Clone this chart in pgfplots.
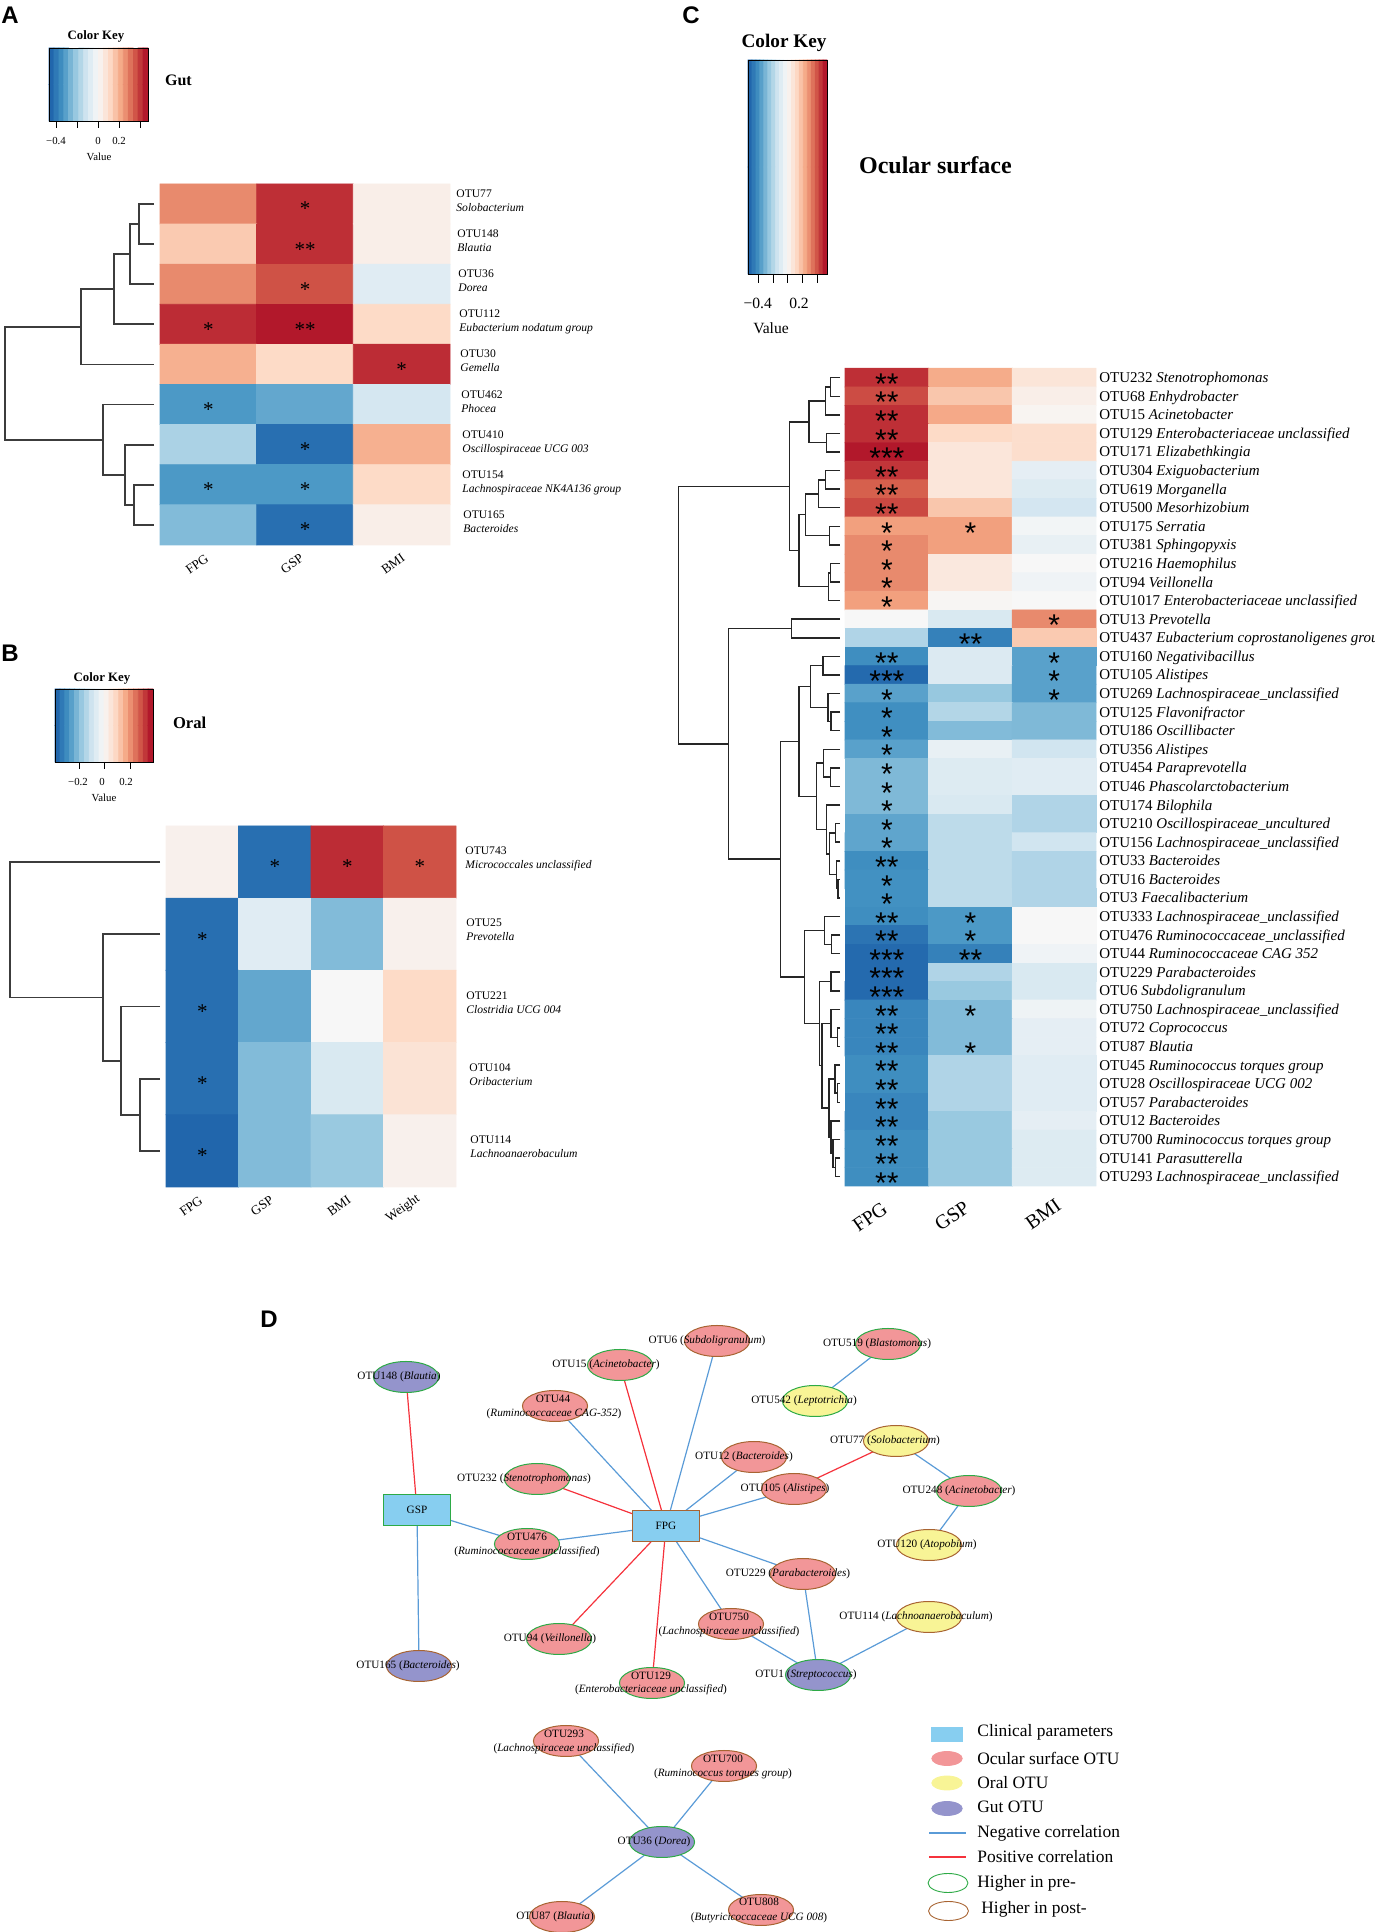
\documentclass[border=0pt]{standalone}
\usepackage{pgfplots}
\pgfplotsset{compat=1.18}
\usepackage{pgfplotstable}
\usepackage{fontspec}
\setmainfont{Liberation Serif}
\setsansfont{Liberation Sans}

\definecolor{nred}{RGB}{242,150,152}
\definecolor{nyel}{RGB}{248,244,150}
\definecolor{npur}{RGB}{148,148,204}
\definecolor{nbox}{RGB}{135,206,240}
\definecolor{bpre}{RGB}{45,170,70}
\definecolor{bpost}{RGB}{168,100,50}
\definecolor{eneg}{RGB}{90,155,215}
\definecolor{epos}{RGB}{245,50,60}
\definecolor{dgray}{RGB}{60,60,60}

\pgfplotsset{colormap={RdBu}{rgb255=(33,102,172) rgb255=(67,147,195) rgb255=(146,197,222) rgb255=(209,229,240) rgb255=(247,247,247) rgb255=(253,219,199) rgb255=(244,165,130) rgb255=(214,96,77) rgb255=(178,24,43)}}

\newcommand{\fLet}{\sffamily\bfseries\fontsize{12}{13}\selectfont}
\newcommand{\fRow}{\fontsize{5.8}{6.5}\selectfont}
\newcommand{\fCrow}{\fontsize{7.5}{9}\selectfont}
\newcommand{\fD}{\fontsize{5.6}{6.5}\selectfont}
\newcommand{\fLeg}{\fontsize{8.7}{10}\selectfont}
\newcommand{\fSmall}{\fontsize{5.4}{6}\selectfont}
\newcommand{\fCsmall}{\fontsize{7.8}{9}\selectfont}

% colour key bands
\pgfplotstableread[row sep=\\]{
k r v\\
0 0 -1\\ 1 0 -0.895\\ 2 0 -0.789\\ 3 0 -0.684\\ 4 0 -0.579\\ 5 0 -0.474\\ 6 0 -0.368\\ 7 0 -0.263\\ 8 0 -0.158\\ 9 0 -0.053\\
10 0 0.053\\ 11 0 0.158\\ 12 0 0.263\\ 13 0 0.368\\ 14 0 0.474\\ 15 0 0.579\\ 16 0 0.684\\ 17 0 0.789\\ 18 0 0.895\\ 19 0 1\\
0 1 -1\\ 1 1 -0.895\\ 2 1 -0.789\\ 3 1 -0.684\\ 4 1 -0.579\\ 5 1 -0.474\\ 6 1 -0.368\\ 7 1 -0.263\\ 8 1 -0.158\\ 9 1 -0.053\\
10 1 0.053\\ 11 1 0.158\\ 12 1 0.263\\ 13 1 0.368\\ 14 1 0.474\\ 15 1 0.579\\ 16 1 0.684\\ 17 1 0.789\\ 18 1 0.895\\ 19 1 1\\
}\keytab

% Panel A (gut): rows 1..9, cols FPG GSP BMI
\pgfplotstableread[row sep=\\]{
r c v\\
1 0 0.6\\ 1 1 0.92\\ 1 2 0.08\\
2 0 0.33\\ 2 1 0.92\\ 2 2 0.08\\
3 0 0.6\\ 3 1 0.8\\ 3 2 -0.15\\
4 0 0.93\\ 4 1 1.0\\ 4 2 0.25\\
5 0 0.45\\ 5 1 0.25\\ 5 2 0.93\\
6 0 -0.72\\ 6 1 -0.65\\ 6 2 -0.22\\
7 0 -0.4\\ 7 1 -0.95\\ 7 2 0.45\\
8 0 -0.72\\ 8 1 -0.72\\ 8 2 0.25\\
9 0 -0.55\\ 9 1 -0.95\\ 9 2 0.08\\
}\Ahm
\pgfplotstableread[row sep=\\]{
r c s\\
1 1 *\\ 2 1 **\\ 3 1 *\\ 4 0 *\\ 4 1 **\\ 5 2 *\\ 6 0 *\\ 7 1 *\\ 8 0 *\\ 8 1 *\\ 9 1 *\\
}\Ast

% Panel B (oral): rows 1..5, cols FPG GSP BMI Weight
\pgfplotstableread[row sep=\\]{
r c v\\
1 0 0.06\\ 1 1 -0.95\\ 1 2 0.93\\ 1 3 0.8\\
2 0 -0.95\\ 2 1 -0.15\\ 2 2 -0.55\\ 2 3 0.06\\
3 0 -0.95\\ 3 1 -0.65\\ 3 2 0.0\\ 3 3 0.25\\
4 0 -0.95\\ 4 1 -0.55\\ 4 2 -0.2\\ 4 3 0.18\\
5 0 -1.0\\ 5 1 -0.55\\ 5 2 -0.47\\ 5 3 0.06\\
}\Bhm
\pgfplotstableread[row sep=\\]{
r c s\\
1 1 *\\ 1 2 *\\ 1 3 *\\ 2 0 *\\ 3 0 *\\ 4 0 *\\ 5 0 *\\
}\Bst

% Panel C (ocular surface): rows 1..44, cols FPG GSP BMI
\pgfplotstableread[row sep=\\]{
r c v\\
1 0 0.92\\ 1 1 0.47\\ 1 2 0.16\\
2 0 0.82\\ 2 1 0.35\\ 2 2 0.08\\
3 0 0.92\\ 3 1 0.48\\ 3 2 0.03\\
4 0 0.92\\ 4 1 0.25\\ 4 2 0.22\\
5 0 1.0\\ 5 1 0.15\\ 5 2 0.22\\
6 0 0.9\\ 6 1 0.15\\ 6 2 -0.12\\
7 0 0.75\\ 7 1 0.15\\ 7 2 -0.17\\
8 0 0.83\\ 8 1 0.35\\ 8 2 -0.23\\
9 0 0.52\\ 9 1 0.52\\ 9 2 -0.03\\
10 0 0.6\\ 10 1 0.52\\ 10 2 -0.1\\
11 0 0.6\\ 11 1 0.13\\ 11 2 0.0\\
12 0 0.6\\ 12 1 0.13\\ 12 2 -0.05\\
13 0 0.52\\ 13 1 0.02\\ 13 2 0.0\\
14 0 0.0\\ 14 1 -0.2\\ 14 2 0.6\\
15 0 -0.38\\ 15 1 -0.85\\ 15 2 0.33\\
16 0 -0.78\\ 16 1 -0.18\\ 16 2 -0.68\\
17 0 -0.98\\ 17 1 -0.18\\ 17 2 -0.68\\
18 0 -0.68\\ 18 1 -0.48\\ 18 2 -0.68\\
19 0 -0.77\\ 19 1 -0.37\\ 19 2 -0.56\\
20 0 -0.77\\ 20 1 -0.55\\ 20 2 -0.56\\
21 0 -0.68\\ 21 1 -0.1\\ 21 2 -0.25\\
22 0 -0.56\\ 22 1 -0.17\\ 22 2 -0.15\\
23 0 -0.56\\ 23 1 -0.17\\ 23 2 -0.15\\
24 0 -0.56\\ 24 1 -0.2\\ 24 2 -0.38\\
25 0 -0.66\\ 25 1 -0.33\\ 25 2 -0.38\\
26 0 -0.66\\ 26 1 -0.33\\ 26 2 -0.25\\
27 0 -0.78\\ 27 1 -0.33\\ 27 2 -0.38\\
28 0 -0.76\\ 28 1 -0.33\\ 28 2 -0.38\\
29 0 -0.76\\ 29 1 -0.33\\ 29 2 -0.38\\
30 0 -0.78\\ 30 1 -0.72\\ 30 2 0.0\\
31 0 -0.92\\ 31 1 -0.72\\ 31 2 0.0\\
32 0 -0.98\\ 32 1 -0.85\\ 32 2 -0.05\\
33 0 -0.98\\ 33 1 -0.38\\ 33 2 -0.2\\
34 0 -0.98\\ 34 1 -0.47\\ 34 2 -0.2\\
35 0 -0.82\\ 35 1 -0.55\\ 35 2 -0.06\\
36 0 -0.82\\ 36 1 -0.55\\ 36 2 -0.12\\
37 0 -0.82\\ 37 1 -0.55\\ 37 2 -0.12\\
38 0 -0.78\\ 38 1 -0.38\\ 38 2 -0.15\\
39 0 -0.78\\ 39 1 -0.38\\ 39 2 -0.15\\
40 0 -0.82\\ 40 1 -0.38\\ 40 2 -0.15\\
41 0 -0.82\\ 41 1 -0.47\\ 41 2 -0.12\\
42 0 -0.78\\ 42 1 -0.47\\ 42 2 -0.17\\
43 0 -0.78\\ 43 1 -0.47\\ 43 2 -0.17\\
44 0 -0.78\\ 44 1 -0.47\\ 44 2 -0.17\\
}\Chm
\pgfplotstableread[row sep=\\]{
r c s\\
1 0 **\\ 2 0 **\\ 3 0 **\\ 4 0 **\\ 5 0 ***\\ 6 0 **\\ 7 0 **\\ 8 0 **\\ 9 0 *\\ 10 0 *\\
11 0 *\\ 12 0 *\\ 13 0 *\\ 16 0 **\\ 17 0 ***\\ 18 0 *\\ 19 0 *\\ 20 0 *\\ 21 0 *\\ 22 0 *\\
23 0 *\\ 24 0 *\\ 25 0 *\\ 26 0 *\\ 27 0 **\\ 28 0 *\\ 29 0 *\\ 30 0 **\\ 31 0 **\\ 32 0 ***\\
33 0 ***\\ 34 0 ***\\ 35 0 **\\ 36 0 **\\ 37 0 **\\ 38 0 **\\ 39 0 **\\ 40 0 **\\ 41 0 **\\ 42 0 **\\
43 0 **\\ 44 0 **\\
9 1 *\\ 15 1 **\\ 30 1 *\\ 31 1 *\\ 32 1 **\\ 35 1 *\\ 37 1 *\\
14 2 *\\ 16 2 *\\ 17 2 *\\ 18 2 *\\
}\Cst

\begin{document}
\begin{tikzpicture}[
  rl/.style={anchor=west, inner sep=0pt, text height=0.7em, text depth=0.2em},
  nl/.style={font=\fD, inner sep=0pt},
]
\begin{axis}[
  width=687.5pt, height=966pt, scale only axis,
  xmin=0, xmax=1375, ymin=0, ymax=1932, y dir=reverse,
  hide axis, clip=false, enlargelimits=false,
  colormap name=RdBu, point meta min=-1, point meta max=1,
  unbounded coords=jump, set layers=standard,
]

%================ PANEL A =================
\node[font=\fLet] at (axis cs:10,15) {A};
\node[font=\bfseries\fontsize{6.4}{7}\selectfont] at (axis cs:96,36) {Color Key};
\addplot[matrix plot*, mesh/cols=20, point meta=explicit] table[x expr={49+4.95*(\thisrow{k}+0.5)}, y expr={48+36.5*(\thisrow{r}+0.5)}, meta=v] {\keytab};
\addplot[black, line width=0.4pt] coordinates {(49,48)(148,48)(148,121)(49,121)(49,48)};
\addplot[black, line width=0.5pt] coordinates {(56,121)(56,128) (nan,nan) (77,121)(77,128) (nan,nan) (98,121)(98,128) (nan,nan) (119,121)(119,128) (nan,nan) (140,121)(140,128)};
\node[font=\fSmall] at (axis cs:56,141) {−0.4};
\node[font=\fSmall] at (axis cs:98,141) {0};
\node[font=\fSmall] at (axis cs:119,141) {0.2};
\node[font=\fSmall] at (axis cs:99,157) {Value};
\node[anchor=west, font=\bfseries\fontsize{8}{9}\selectfont] at (axis cs:158,80) {Gut};

\addplot[matrix plot*, mesh/cols=3, point meta=explicit] table[x expr={160+96.67*(\thisrow{c}+0.5)}, y expr={184+40.1*(\thisrow{r}-0.5)}, meta=v] {\Ahm};
\addplot[draw=none, mark=none, nodes near coords, point meta=explicit symbolic, nodes near coords align={center},
  every node near coord/.append style={font=\fontsize{10.5}{12}\selectfont, anchor=center, yshift=-2.5pt, inner sep=0pt}]
  table[x expr={160+96.67*(\thisrow{c}+0.5)}, y expr={184+40.1*(\thisrow{r}-0.5)}, meta=s] {\Ast};

\addplot[dgray, line width=0.9pt] coordinates {
(154,204.05)(139,204.05)(139,244.15)(154,244.15) (nan,nan)
(139,224.1)(130,224.1)(130,284.25)(154,284.25) (nan,nan)
(130,254.18)(114,254.18)(114,324.35)(154,324.35) (nan,nan)
(114,289.26)(81,289.26)(81,364.45)(154,364.45) (nan,nan)
(154,484.75)(134,484.75)(134,524.85)(154,524.85) (nan,nan)
(154,444.65)(125,444.65)(125,504.8)(134,504.8) (nan,nan)
(154,404.55)(103,404.55)(103,474.73)(125,474.73) (nan,nan)
(81,326.86)(5,326.86)(5,439.64)(103,439.64)
};

\node[rl, font=\fRow] at (axis cs:456,193) {OTU77};
\node[rl, font=\fRow] at (axis cs:456,207) {\textit{Solobacterium}};
\node[rl, font=\fRow] at (axis cs:457,233) {OTU148};
\node[rl, font=\fRow] at (axis cs:457,247) {\textit{Blautia}};
\node[rl, font=\fRow] at (axis cs:458,273) {OTU36};
\node[rl, font=\fRow] at (axis cs:458,287) {\textit{Dorea}};
\node[rl, font=\fRow] at (axis cs:459,313) {OTU112};
\node[rl, font=\fRow] at (axis cs:459,327) {\textit{Eubacterium nodatum group}};
\node[rl, font=\fRow] at (axis cs:460,353) {OTU30};
\node[rl, font=\fRow] at (axis cs:460,367) {\textit{Gemella}};
\node[rl, font=\fRow] at (axis cs:461,394) {OTU462};
\node[rl, font=\fRow] at (axis cs:461,408) {\textit{Phocea}};
\node[rl, font=\fRow] at (axis cs:462,434) {OTU410};
\node[rl, font=\fRow] at (axis cs:462,448) {\textit{Oscillospiraceae UCG 003}};
\node[rl, font=\fRow] at (axis cs:462,474) {OTU154};
\node[rl, font=\fRow] at (axis cs:462,488) {\textit{Lachnospiraceae NK4A136 group}};
\node[rl, font=\fRow] at (axis cs:463,514) {OTU165};
\node[rl, font=\fRow] at (axis cs:463,528) {\textit{Bacteroides}};

\node[rotate=35, font=\fontsize{6.6}{7}\selectfont] at (axis cs:197,564) {FPG};
\node[rotate=35, font=\fontsize{6.6}{7}\selectfont] at (axis cs:292,564) {GSP};
\node[rotate=35, font=\fontsize{6.6}{7}\selectfont] at (axis cs:393,564) {BMI};

%================ PANEL B =================
\node[font=\fLet] at (axis cs:10,653) {B};
\node[font=\bfseries\fontsize{6.4}{7}\selectfont] at (axis cs:102,678) {Color Key};
\addplot[matrix plot*, mesh/cols=20, point meta=explicit] table[x expr={55+4.9*(\thisrow{k}+0.5)}, y expr={689+36.5*(\thisrow{r}+0.5)}, meta=v] {\keytab};
\addplot[black, line width=0.4pt] coordinates {(55,689)(153,689)(153,762)(55,762)(55,689)};
\addplot[black, line width=0.5pt] coordinates {(79,762)(79,769) (nan,nan) (104,762)(104,769) (nan,nan) (130,762)(130,769)};
\node[font=\fSmall] at (axis cs:78,782) {−0.2};
\node[font=\fSmall] at (axis cs:102,782) {0};
\node[font=\fSmall] at (axis cs:126,782) {0.2};
\node[font=\fSmall] at (axis cs:104,798) {Value};
\node[anchor=west, font=\bfseries\fontsize{8.3}{9}\selectfont] at (axis cs:166,723) {Oral};

\addplot[matrix plot*, mesh/cols=4, point meta=explicit] table[x expr={166+72.5*(\thisrow{c}+0.5)}, y expr={826+72.2*(\thisrow{r}-0.5)}, meta=v] {\Bhm};
\addplot[draw=none, mark=none, nodes near coords, point meta=explicit symbolic, nodes near coords align={center},
  every node near coord/.append style={font=\fontsize{10.5}{12}\selectfont, anchor=center, yshift=-2.5pt, inner sep=0pt}]
  table[x expr={166+72.5*(\thisrow{c}+0.5)}, y expr={826+72.2*(\thisrow{r}-0.5)}, meta=s] {\Bst};

\addplot[dgray, line width=0.9pt] coordinates {
(160,1078.7)(140,1078.7)(140,1150.9)(160,1150.9) (nan,nan)
(160,1006.5)(121,1006.5)(121,1114.8)(140,1114.8) (nan,nan)
(160,934.3)(103,934.3)(103,1060.65)(121,1060.65) (nan,nan)
(160,862.1)(10,862.1)(10,997.48)(103,997.48)
};

\node[rl, font=\fRow] at (axis cs:465,850) {OTU743};
\node[rl, font=\fRow] at (axis cs:465,864) {\textit{Micrococcales unclassified}};
\node[rl, font=\fRow] at (axis cs:466,922) {OTU25};
\node[rl, font=\fRow] at (axis cs:466,936) {\textit{Prevotella}};
\node[rl, font=\fRow] at (axis cs:466,995) {OTU221};
\node[rl, font=\fRow] at (axis cs:466,1009) {\textit{Clostridia UCG 004}};
\node[rl, font=\fRow] at (axis cs:469,1067) {OTU104};
\node[rl, font=\fRow] at (axis cs:469,1081) {\textit{Oribacterium}};
\node[rl, font=\fRow] at (axis cs:470,1139) {OTU114};
\node[rl, font=\fRow] at (axis cs:470,1153) {\textit{Lachnoanaerobaculum}};

\node[rotate=35, font=\fontsize{6.6}{7}\selectfont] at (axis cs:191,1206) {FPG};
\node[rotate=35, font=\fontsize{6.6}{7}\selectfont] at (axis cs:262,1206) {GSP};
\node[rotate=35, font=\fontsize{6.6}{7}\selectfont] at (axis cs:339,1206) {BMI};
\node[rotate=35, font=\fontsize{6.6}{7}\selectfont] at (axis cs:403,1209) {Weight};

%================ PANEL C =================
\node[font=\fLet] at (axis cs:691,15) {C};
\node[font=\bfseries\fontsize{9.6}{11}\selectfont] at (axis cs:784,43) {Color Key};
\addplot[matrix plot*, mesh/cols=20, point meta=explicit] table[x expr={748+3.95*(\thisrow{k}+0.5)}, y expr={60+107*(\thisrow{r}+0.5)}, meta=v] {\keytab};
\addplot[black, line width=0.4pt] coordinates {(748,60)(827,60)(827,274)(748,274)(748,60)};
\addplot[black, line width=0.5pt] coordinates {(758.6,274)(758.6,283) (nan,nan) (773.2,274)(773.2,283) (nan,nan) (787.9,274)(787.9,283) (nan,nan) (802.5,274)(802.5,283) (nan,nan) (817.1,274)(817.1,283)};
\node[font=\fCsmall] at (axis cs:757.7,303) {−0.4};
\node[font=\fCsmall] at (axis cs:799,303) {0.2};
\node[font=\fCsmall] at (axis cs:771,328) {Value};
\node[anchor=west, font=\bfseries\fontsize{12}{13}\selectfont] at (axis cs:852,165) {Ocular surface};

\addplot[matrix plot*, mesh/cols=3, point meta=explicit] table[x expr={845+83.67*(\thisrow{c}+0.5)}, y expr={368.4+18.58*(\thisrow{r}-0.5)}, meta=v] {\Chm};
\addplot[draw=none, mark=none, nodes near coords, point meta=explicit symbolic, nodes near coords align={center},
  every node near coord/.append style={font=\sffamily\fontsize{15}{16}\selectfont, anchor=center, yshift=-3.2pt, inner sep=0pt}]
  table[x expr={845+83.67*(\thisrow{c}+0.5)}, y expr={368.4+18.58*(\thisrow{r}-0.5)}, meta=s] {\Cst};

\addplot[black!85, line width=0.75pt] coordinates {
(840,377.69)(830.3,377.69)(830.3,396.27)(840,396.27) (nan,nan)
(830.3,386.98)(825.7,386.98)(825.7,414.85)(840,414.85) (nan,nan)
(840,433.43)(826.3,433.43)(826.3,452.01)(840,452.01) (nan,nan)
(825.7,400.92)(809,400.92)(809,442.72)(826.3,442.72) (nan,nan)
(840,470.59)(825.7,470.59)(825.7,489.17)(840,489.17) (nan,nan)
(825.7,479.88)(818.7,479.88)(818.7,507.75)(840,507.75) (nan,nan)
(840,526.33)(829.7,526.33)(829.7,544.91)(840,544.91) (nan,nan)
(818.7,493.82)(805.3,493.82)(805.3,535.62)(829.7,535.62) (nan,nan)
(840,563.49)(830.7,563.49)(830.7,582.07)(840,582.07) (nan,nan)
(830.7,572.78)(828.7,572.78)(828.7,600.65)(840,600.65) (nan,nan)
(805.3,514.72)(799,514.72)(799,586.72)(828.7,586.72) (nan,nan)
(809,421.82)(789.7,421.82)(789.7,550.72)(799,550.72) (nan,nan)
(840,619.23)(791.3,619.23)(791.3,637.81)(840,637.81) (nan,nan)
(840,656.39)(823,656.39)(823,674.97)(840,674.97) (nan,nan)
(840,712.13)(831,712.13)(831,730.71)(840,730.71) (nan,nan)
(840,693.55)(828,693.55)(828,721.42)(831,721.42) (nan,nan)
(823,665.68)(810.7,665.68)(810.7,707.49)(828,707.49) (nan,nan)
(840,767.87)(830.7,767.87)(830.7,786.45)(840,786.45) (nan,nan)
(840,749.29)(823.3,749.29)(823.3,777.16)(830.7,777.16) (nan,nan)
(840,879.35)(838,879.35)(838,897.93)(840,897.93) (nan,nan)
(840,860.77)(836.3,860.77)(836.3,888.64)(838,888.64) (nan,nan)
(840,823.61)(835.3,823.61)(835.3,842.19)(840,842.19) (nan,nan)
(835.3,832.9)(829.3,832.9)(829.3,874.71)(836.3,874.71) (nan,nan)
(840,805.03)(826.3,805.03)(826.3,853.8)(829.3,853.8) (nan,nan)
(823.3,763.23)(816.7,763.23)(816.7,829.42)(826.3,829.42) (nan,nan)
(810.7,686.58)(799,686.58)(799,796.32)(816.7,796.32) (nan,nan)
(840,935.09)(831.7,935.09)(831.7,953.67)(840,953.67) (nan,nan)
(840,916.51)(824.3,916.51)(824.3,944.38)(831.7,944.38) (nan,nan)
(840,972.25)(831,972.25)(831,990.83)(840,990.83) (nan,nan)
(840,1027.99)(837.3,1027.99)(837.3,1046.57)(840,1046.57) (nan,nan)
(840,1009.41)(831,1009.41)(831,1037.28)(837.3,1037.28) (nan,nan)
(840,1083.73)(837.3,1083.73)(837.3,1102.31)(840,1102.31) (nan,nan)
(840,1065.15)(835,1065.15)(835,1093.02)(837.3,1093.02) (nan,nan)
(840,1158.05)(835.7,1158.05)(835.7,1176.63)(840,1176.63) (nan,nan)
(840,1139.47)(833,1139.47)(833,1167.34)(835.7,1167.34) (nan,nan)
(840,1120.89)(831,1120.89)(831,1153.4)(833,1153.4) (nan,nan)
(835,1079.09)(829,1079.09)(829,1137.15)(831,1137.15) (nan,nan)
(831,1023.35)(822,1023.35)(822,1108.12)(829,1108.12) (nan,nan)
(831,981.54)(819.3,981.54)(819.3,1065.73)(822,1065.73) (nan,nan)
(824.3,930.45)(804.7,930.45)(804.7,1023.64)(819.3,1023.64) (nan,nan)
(799,741.45)(780.7,741.45)(780.7,977.04)(804.7,977.04) (nan,nan)
(791.3,628.52)(728.3,628.52)(728.3,859.25)(780.7,859.25) (nan,nan)
(789.7,486.27)(678.7,486.27)(678.7,743.88)(728.3,743.88)
};

\node[rl, font=\fCrow] at (axis cs:1099,377.69) {OTU232 \textit{Stenotrophomonas}};
\node[rl, font=\fCrow] at (axis cs:1099,396.27) {OTU68 \textit{Enhydrobacter}};
\node[rl, font=\fCrow] at (axis cs:1099,414.85) {OTU15 \textit{Acinetobacter}};
\node[rl, font=\fCrow] at (axis cs:1099,433.43) {OTU129 \textit{Enterobacteriaceae unclassified}};
\node[rl, font=\fCrow] at (axis cs:1099,452.01) {OTU171 \textit{Elizabethkingia}};
\node[rl, font=\fCrow] at (axis cs:1099,470.59) {OTU304 \textit{Exiguobacterium}};
\node[rl, font=\fCrow] at (axis cs:1099,489.17) {OTU619 \textit{Morganella}};
\node[rl, font=\fCrow] at (axis cs:1099,507.75) {OTU500 \textit{Mesorhizobium}};
\node[rl, font=\fCrow] at (axis cs:1099,526.33) {OTU175 \textit{Serratia}};
\node[rl, font=\fCrow] at (axis cs:1099,544.91) {OTU381 \textit{Sphingopyxis}};
\node[rl, font=\fCrow] at (axis cs:1099,563.49) {OTU216 \textit{Haemophilus}};
\node[rl, font=\fCrow] at (axis cs:1099,582.07) {OTU94 \textit{Veillonella}};
\node[rl, font=\fCrow] at (axis cs:1099,600.65) {OTU1017 \textit{Enterobacteriaceae unclassified}};
\node[rl, font=\fCrow] at (axis cs:1099,619.23) {OTU13 \textit{Prevotella}};
\node[rl, font=\fCrow] at (axis cs:1099,637.81) {OTU437 \textit{Eubacterium coprostanoligenes group}};
\node[rl, font=\fCrow] at (axis cs:1099,656.39) {OTU160 \textit{Negativibacillus}};
\node[rl, font=\fCrow] at (axis cs:1099,674.97) {OTU105 \textit{Alistipes}};
\node[rl, font=\fCrow] at (axis cs:1099,693.55) {OTU269 \textit{Lachnospiraceae\_unclassified}};
\node[rl, font=\fCrow] at (axis cs:1099,712.13) {OTU125 \textit{Flavonifractor}};
\node[rl, font=\fCrow] at (axis cs:1099,730.71) {OTU186 \textit{Oscillibacter}};
\node[rl, font=\fCrow] at (axis cs:1099,749.29) {OTU356 \textit{Alistipes}};
\node[rl, font=\fCrow] at (axis cs:1099,767.87) {OTU454 \textit{Paraprevotella}};
\node[rl, font=\fCrow] at (axis cs:1099,786.45) {OTU46 \textit{Phascolarctobacterium}};
\node[rl, font=\fCrow] at (axis cs:1099,805.03) {OTU174 \textit{Bilophila}};
\node[rl, font=\fCrow] at (axis cs:1099,823.61) {OTU210 \textit{Oscillospiraceae\_uncultured}};
\node[rl, font=\fCrow] at (axis cs:1099,842.19) {OTU156 \textit{Lachnospiraceae\_unclassified}};
\node[rl, font=\fCrow] at (axis cs:1099,860.77) {OTU33 \textit{Bacteroides}};
\node[rl, font=\fCrow] at (axis cs:1099,879.35) {OTU16 \textit{Bacteroides}};
\node[rl, font=\fCrow] at (axis cs:1099,897.93) {OTU3 \textit{Faecalibacterium}};
\node[rl, font=\fCrow] at (axis cs:1099,916.51) {OTU333 \textit{Lachnospiraceae\_unclassified}};
\node[rl, font=\fCrow] at (axis cs:1099,935.09) {OTU476 \textit{Ruminococcaceae\_unclassified}};
\node[rl, font=\fCrow] at (axis cs:1099,953.67) {OTU44 \textit{Ruminococcaceae CAG 352}};
\node[rl, font=\fCrow] at (axis cs:1099,972.25) {OTU229 \textit{Parabacteroides}};
\node[rl, font=\fCrow] at (axis cs:1099,990.83) {OTU6 \textit{Subdoligranulum}};
\node[rl, font=\fCrow] at (axis cs:1099,1009.41) {OTU750 \textit{Lachnospiraceae\_unclassified}};
\node[rl, font=\fCrow] at (axis cs:1099,1027.99) {OTU72 \textit{Coprococcus}};
\node[rl, font=\fCrow] at (axis cs:1099,1046.57) {OTU87 \textit{Blautia}};
\node[rl, font=\fCrow] at (axis cs:1099,1065.15) {OTU45 \textit{Ruminococcus torques group}};
\node[rl, font=\fCrow] at (axis cs:1099,1083.73) {OTU28 \textit{Oscillospiraceae UCG 002}};
\node[rl, font=\fCrow] at (axis cs:1099,1102.31) {OTU57 \textit{Parabacteroides}};
\node[rl, font=\fCrow] at (axis cs:1099,1120.89) {OTU12 \textit{Bacteroides}};
\node[rl, font=\fCrow] at (axis cs:1099,1139.47) {OTU700 \textit{Ruminococcus torques group}};
\node[rl, font=\fCrow] at (axis cs:1099,1158.05) {OTU141 \textit{Parasutterella}};
\node[rl, font=\fCrow] at (axis cs:1099,1176.63) {OTU293 \textit{Lachnospiraceae\_unclassified}};

\node[rotate=35, font=\fontsize{10}{11}\selectfont] at (axis cs:870,1217) {FPG};
\node[rotate=35, font=\fontsize{10}{11}\selectfont] at (axis cs:952,1216) {GSP};
\node[rotate=35, font=\fontsize{10}{11}\selectfont] at (axis cs:1043,1214) {BMI};

%================ PANEL D =================
\node[font=\fLet] at (axis cs:269,1319) {D};

% edges
\addplot[eneg, line width=0.6pt] coordinates {
(417,1510)(419,1666) (nan,nan) (417,1510)(527,1544) (nan,nan) (527,1544)(666,1526) (nan,nan)
(555,1406)(666,1526) (nan,nan) (717,1341)(666,1526) (nan,nan) (754,1457)(666,1526) (nan,nan)
(794,1489)(666,1526) (nan,nan) (803,1574)(666,1526) (nan,nan) (731,1624)(666,1526) (nan,nan)
(803,1574)(818,1675) (nan,nan) (731,1624)(818,1675) (nan,nan) (929,1617)(818,1675) (nan,nan)
(896,1441)(969,1491) (nan,nan) (969,1491)(929,1545) (nan,nan) (888,1344)(815,1401) (nan,nan)
(566,1741)(662,1842) (nan,nan) (724,1766)(662,1842) (nan,nan) (562,1917)(662,1842) (nan,nan)
(761,1910)(662,1842)
};
\addplot[epos, line width=0.6pt] coordinates {
(406,1377)(417,1510) (nan,nan) (537,1479)(666,1526) (nan,nan) (620,1365)(666,1526) (nan,nan)
(652,1683)(666,1526) (nan,nan) (559,1639)(666,1526) (nan,nan) (794,1489)(896,1441)
};

% nodes
\addplot[only marks, mark=*, mark size=7.75pt, mark options={xscale=2.1, fill=nred, draw=bpre, line width=0.5pt}] coordinates {
(620,1365)(537,1479)(527,1544)(559,1639)(652,1683)(888,1344)(969,1491)};
\addplot[only marks, mark=*, mark size=7.75pt, mark options={xscale=2.1, fill=nred, draw=bpost, line width=0.5pt}] coordinates {
(717,1341)(555,1406)(754,1457)(794,1489)(803,1574)(731,1624)(566,1741)(724,1766)(562,1917)(761,1910)};
\addplot[only marks, mark=*, mark size=7.75pt, mark options={xscale=2.1, fill=nyel, draw=bpre, line width=0.5pt}] coordinates {(815,1401)};
\addplot[only marks, mark=*, mark size=7.75pt, mark options={xscale=2.1, fill=nyel, draw=bpost, line width=0.5pt}] coordinates {(896,1441)(929,1545)(929,1617)};
\addplot[only marks, mark=*, mark size=7.75pt, mark options={xscale=2.1, fill=npur, draw=bpre, line width=0.5pt}] coordinates {(406,1377)(818,1675)(662,1842)};
\addplot[only marks, mark=*, mark size=7.75pt, mark options={xscale=2.1, fill=npur, draw=bpost, line width=0.5pt}] coordinates {(419,1666)};
\addplot[only marks, mark=square*, mark size=7.75pt, mark options={xscale=2.16, fill=nbox, draw=bpre, line width=0.5pt}] coordinates {(417,1510)};
\addplot[only marks, mark=square*, mark size=7.75pt, mark options={xscale=2.16, fill=nbox, draw=bpost, line width=0.5pt}] coordinates {(666,1526)};

% node labels (above the node shapes)
\begin{pgfonlayer}{axis foreground}
\node[nl] at (axis cs:417,1510) {GSP};
\node[nl] at (axis cs:666,1526) {FPG};
\node[nl] at (axis cs:399,1377) {OTU148 (\textit{Blautia})};
\node[nl] at (axis cs:408,1666) {OTU165 (\textit{Bacteroides})};
\node[nl] at (axis cs:707,1341) {OTU6 (\textit{Subdoligranulum})};
\node[nl] at (axis cs:606,1365) {OTU15 (\textit{Acinetobacter})};
\node[nl] at (axis cs:553,1399) {OTU44};
\node[nl] at (axis cs:554,1414) {(\textit{Ruminococcaceae CAG-352})};
\node[nl] at (axis cs:524,1479) {OTU232 (\textit{Stenotrophomonas})};
\node[nl] at (axis cs:744,1457) {OTU12 (\textit{Bacteroides})};
\node[nl] at (axis cs:785,1489) {OTU105 (\textit{Alistipes})};
\node[nl] at (axis cs:527,1537) {OTU476};
\node[nl] at (axis cs:527,1552) {(\textit{Ruminococcaceae unclassified})};
\node[nl] at (axis cs:788,1574) {OTU229 (\textit{Parabacteroides})};
\node[nl] at (axis cs:729,1617) {OTU750};
\node[nl] at (axis cs:729,1632) {(\textit{Lachnospiraceae unclassified})};
\node[nl] at (axis cs:550,1639) {OTU94 (\textit{Veillonella})};
\node[nl] at (axis cs:651,1676) {OTU129};
\node[nl] at (axis cs:651,1690) {(\textit{Enterobacteriaceae unclassified})};
\node[nl] at (axis cs:806,1675) {OTU1 (\textit{Streptococcus})};
\node[nl] at (axis cs:877,1344) {OTU519 (\textit{Blastomonas})};
\node[nl] at (axis cs:804,1401) {OTU542 (\textit{Leptotrichia})};
\node[nl] at (axis cs:885,1441) {OTU77 (\textit{Solobacterium})};
\node[nl] at (axis cs:959,1491) {OTU248 (\textit{Acinetobacter})};
\node[nl] at (axis cs:927,1545) {OTU120 (\textit{Atopobium})};
\node[nl] at (axis cs:916,1617) {OTU114 (\textit{Lachnoanaerobaculum})};
\node[nl] at (axis cs:564,1734) {OTU293};
\node[nl] at (axis cs:564,1749) {(\textit{Lachnospiraceae unclassified})};
\node[nl] at (axis cs:723,1759) {OTU700};
\node[nl] at (axis cs:723,1774) {(\textit{Ruminococcus torques group})};
\node[nl] at (axis cs:654,1842) {OTU36 (\textit{Dorea})};
\node[nl] at (axis cs:555,1917) {OTU87 (\textit{Blautia})};
\node[nl] at (axis cs:759,1902) {OTU808};
\node[nl] at (axis cs:759,1918) {(\textit{Butyricicoccaceae UCG 008})};
\end{pgfonlayer}

% legend
\addplot[only marks, mark=square*, mark size=3.5pt, mark options={xscale=2.18, fill=nbox, draw=nbox}] coordinates {(947,1734)};
\addplot[only marks, mark=*, mark size=3.5pt, mark options={xscale=2.18, fill=nred, draw=nred}] coordinates {(947,1758.5)};
\addplot[only marks, mark=*, mark size=3.5pt, mark options={xscale=2.18, fill=nyel, draw=nyel}] coordinates {(947,1783)};
\addplot[only marks, mark=*, mark size=3.5pt, mark options={xscale=2.18, fill=npur, draw=npur}] coordinates {(947,1808.5)};
\addplot[eneg, line width=0.6pt] coordinates {(929,1833)(966,1833)};
\addplot[epos, line width=0.6pt] coordinates {(929,1857)(966,1857)};
\addplot[only marks, mark=*, mark size=4.75pt, mark options={xscale=2.1, fill=white, draw=bpre, line width=0.45pt}] coordinates {(948,1883)};
\addplot[only marks, mark=*, mark size=4.75pt, mark options={xscale=2.1, fill=white, draw=bpost, line width=0.45pt}] coordinates {(948.5,1911)};
\node[anchor=west, font=\fLeg, inner sep=0pt] at (axis cs:977,1732) {Clinical parameters};
\node[anchor=west, font=\fLeg, inner sep=0pt] at (axis cs:977,1758) {Ocular surface OTU};
\node[anchor=west, font=\fLeg, inner sep=0pt] at (axis cs:977,1783) {Oral OTU};
\node[anchor=west, font=\fLeg, inner sep=0pt] at (axis cs:977,1807) {Gut OTU};
\node[anchor=west, font=\fLeg, inner sep=0pt] at (axis cs:977,1833) {Negative correlation};
\node[anchor=west, font=\fLeg, inner sep=0pt] at (axis cs:977,1857) {Positive correlation};
\node[anchor=west, font=\fLeg, inner sep=0pt] at (axis cs:977,1883) {Higher in pre-};
\node[anchor=west, font=\fLeg, inner sep=0pt] at (axis cs:981,1909) {Higher in post-};

\end{axis}
\pgfresetboundingbox
\path[use as bounding box] (0,0) rectangle (687.5pt,966pt);
\end{tikzpicture}
\end{document}
